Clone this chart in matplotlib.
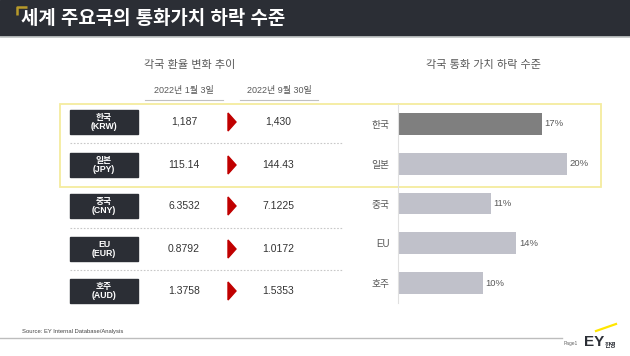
import matplotlib.pyplot as plt
from matplotlib.patches import Rectangle, Polygon

plt.rcParams['font.family'] = ['Liberation Sans', 'Noto Sans CJK KR', 'DejaVu Sans']

# data
countries = ['한국', '일본', '중국', 'EU', '호주']
codes = ['KRW', 'JPY', 'CNY', 'EUR', 'AUD']
rate_jan = ['1,187', '115.14', '6.3532', '0.8792', '1.3758']
rate_sep = ['1,430', '144.43', '7.1225', '1.0172', '1.5353']
decline = [17, 20, 11, 14, 10]
date_labels = ['2022년 1월 3일', '2022년 9월 30일']

W, H = 630, 356
fig = plt.figure(figsize=(W / 100, H / 100), dpi=100)
fig.patch.set_facecolor('white')

# full-figure canvas in pixel coords
bg = fig.add_axes([0, 0, 1, 1])
bg.set_xlim(0, W)
bg.set_ylim(H, 0)
bg.axis('off')

dark = '#2b2e35'
grey_txt = '#595959'

# title bar
bg.add_patch(Rectangle((0, 0), W, 36, color=dark, zorder=1))
bg.plot([0, W], [37, 37], color='#c8cccc', lw=1.2, zorder=1)
bg.plot([17, 17, 27], [15, 7, 7], color='#b89a2a', lw=1.8, solid_capstyle='butt', zorder=2)
bg.text(21, 19, '세계 주요국의 통화가치 하락 수준', color='white', fontsize=13.6,
        fontweight='bold', va='center', ha='left')

# section headings
bg.text(190, 65, '각국 환율 변화 추이', color=grey_txt, fontsize=8, ha='center', va='center')
bg.text(483, 65, '각국 통화 가치 하락 수준', color=grey_txt, fontsize=8, ha='center', va='center')

# date headers
for xc, (x0, x1), lab in zip([184, 279], [(145, 223), (240, 318)], date_labels):
    bg.text(xc, 91, lab, color=grey_txt, fontsize=6.5, ha='center', va='center')
    bg.plot([x0, x1], [100, 100], color='#c0c0c0', lw=0.8)

# highlight box (Korea, Japan)
bg.add_patch(Rectangle((60, 104), 541, 83, fill=False, ec='#f4ec9e', lw=1.3, zorder=3))

# table rows
row_y = [122, 165, 206, 249, 291]
for i, y in enumerate(row_y):
    bg.add_patch(Rectangle((70, y - 12), 68, 24, color=dark, zorder=2))
    bg.text(104, y, countries[i] + '\n(' + codes[i] + ')', color='white', fontsize=6.3,
            fontweight='bold', ha='center', va='center', linespacing=1.05, zorder=3)
    bg.text(184, y, rate_jan[i], color='#333333', fontsize=7.5, ha='center', va='center')
    bg.text(278, y, rate_sep[i], color='#333333', fontsize=7.5, ha='center', va='center')
    bg.add_patch(Polygon([(228, y - 9), (236, y), (228, y + 9)], closed=True,
                         color='#c00000', zorder=2))

for y in [143, 228, 270]:
    bg.plot([70, 343], [y, y], color='#c8c8c8', lw=0.8, ls=(0, (1.5, 1.5)))

# footer
bg.text(22, 332, 'Source: EY Internal Database/Analysis', color='#444444', fontsize=4.2,
        ha='left', va='center')
bg.plot([0, 562], [338, 338], color='#bdbdbd', lw=1.0)
bg.text(578, 344, 'Page1', color='#666666', fontsize=3.5, ha='right', va='center')
bg.text(584, 342, 'EY', color=dark, fontsize=11, fontweight='bold', ha='left', va='center')
bg.text(605, 344.5, '한영', color=dark, fontsize=4.5, fontweight='bold', ha='left', va='center')
bg.plot([596, 616], [331, 324], color='#ffe600', lw=1.6)

# bar chart
x_left, x_right = 398, 610
y_top, y_bot = 104, 303
ax = fig.add_axes([x_left / W, 1 - y_bot / H, (x_right - x_left) / W, (y_bot - y_top) / H])
ax.set_facecolor('none')
pos = list(range(len(countries)))
colors = ['#7f7f7f'] + ['#c0c1ca'] * (len(countries) - 1)
ax.barh(pos, decline, height=0.55, color=colors)
ax.set_xlim(0, (x_right - x_left) / 8.45)
ax.set_ylim(len(countries) - 0.5, -0.5)
ax.set_yticks(pos)
ax.set_yticklabels(countries, color=grey_txt, fontsize=7)
ax.tick_params(axis='y', length=0, pad=6)
ax.set_xticks([])
for s in ['top', 'right', 'bottom']:
    ax.spines[s].set_visible(False)
ax.spines['left'].set_color('#e0e0e0')
ax.spines['left'].set_linewidth(0.8)
for p, v in zip(pos, decline):
    ax.text(v + 0.3, p, f'{v}%', color=grey_txt, fontsize=6.8, va='center', ha='left')

fig.savefig('out.png', dpi=100)
